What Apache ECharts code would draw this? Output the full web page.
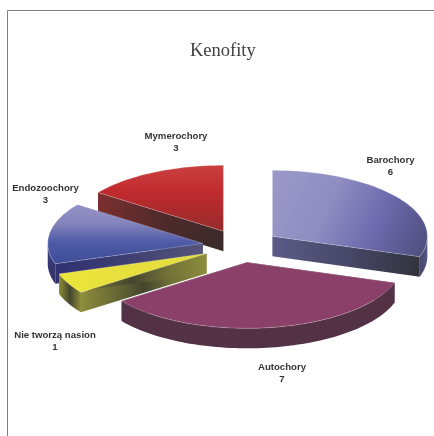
<!DOCTYPE html>
<html>
<head>
<meta charset="utf-8">
<style>html,body{margin:0;padding:0;background:#fff}#chart{width:434px;height:436px}</style>
<script src="https://cdn.jsdelivr.net/npm/echarts@6/dist/echarts.min.js"></script>
</head>
<body>
<div id="chart"></div>
<script>
// Dispersal modes of kenophytes, clockwise from twelve o'clock.
const categories = ['Barochory', 'Autochory', 'Nie tworzą nasion', 'Endozoochory', 'Mymerochory'];
const values = [6, 7, 1, 3, 3];

// Projected pie geometry, in pixels.
const pie = { cx: 241, cy: 246, rx: 155, ry: 66, explode: 0.25, depth: 20 };

// Centre of each two-line label, in category order.
const labelCentres = [[390.5, 166], [282, 373], [55, 341], [45.5, 194], [176, 142]];

function linear(x2, y2, stops) {
  return {
    type: 'linear', x: 0, y: 0, x2: x2, y2: y2,
    colorStops: stops.map(function (s) { return { offset: s[0], color: s[1] }; })
  };
}

// Face fills for each slice, in category order.
const faces = [
  {
    top: linear(1, 0.85, [[0, '#9c99c9'], [0.38, '#8f8dc1'], [0.68, '#6d6bae'], [1, '#4f4f80']]),
    cut: linear(1, 0.3, [[0, '#5b5b87'], [0.5, '#48486a'], [1, '#33333e']]),
    wall: linear(1, 0, [[0, '#46466a'], [1, '#55568a']])
  },
  { top: '#8a4068', cut: '#533246', wall: '#533246' },
  {
    top: linear(1, 0, [[0, '#ece53a'], [0.5, '#e6df3e'], [1, '#e4dd3c']]),
    cut: linear(1, 0, [[0, '#8d8d3a'], [0.25, '#6b6c36'], [0.5, '#44462f'], [0.72, '#6f7036'], [1, '#8c8c3c']]),
    wall: linear(1, 0, [[0, '#8d8d38'], [0.5, '#44462f'], [1, '#8d8d38']])
  },
  {
    top: linear(0, 1, [[0, '#9492c7'], [0.3, '#8685bd'], [0.65, '#4d5aa6'], [1, '#3e4c98']]),
    cut: linear(1, 0, [[0, '#2f3070'], [0.5, '#3f4072'], [1, '#56567a']]),
    wall: linear(0, 1, [[0, '#3c3d7e'], [1, '#323368']])
  },
  {
    top: linear(0, 1, [[0, '#ca4040'], [0.4, '#c02a2e'], [1, '#962b2b']]),
    cut: linear(1, 0.4, [[0, '#7c2f30'], [0.55, '#4f2a2a'], [1, '#3d2a2b']]),
    wall: '#3d2a2b'
  }
];

const total = values.reduce(function (a, b) { return a + b; }, 0);

// Each row: category index, cumulative start, value. Rows run back to front so
// nearer slices paint over farther ones.
let running = 0;
const rows = values.map(function (v, i) {
  const row = [i, running, v];
  running += v;
  return row;
}).sort(function (a, b) {
  const mid = function (r) { return (r[1] + r[2] / 2) / total * 2 * Math.PI; };
  return Math.cos(mid(b)) - Math.cos(mid(a));
});

function renderSlice(params, api) {
  const index = api.value(0);
  const a0 = api.value(1) / total * 2 * Math.PI;
  const a1 = (api.value(1) + api.value(2)) / total * 2 * Math.PI;
  const mid = (a0 + a1) / 2;
  const ox = pie.cx + pie.explode * pie.rx * Math.sin(mid);
  const oy = pie.cy - pie.explode * pie.ry * Math.cos(mid);
  const rim = function (a, drop) {
    return [ox + pie.rx * Math.sin(a), oy - pie.ry * Math.cos(a) + (drop || 0)];
  };
  const arc = function (from, to, drop) {
    const pts = [];
    const n = Math.max(2, Math.ceil(Math.abs(to - from) / 0.03));
    for (let k = 0; k <= n; k++) pts.push(rim(from + (to - from) * k / n, drop));
    return pts;
  };
  const polygon = function (points, fill, extra) {
    return {
      type: 'polygon', silent: true,
      shape: { points: points },
      style: Object.assign({ fill: fill }, extra || {})
    };
  };
  const d = pie.depth;
  const face = faces[index];
  const children = [];

  // Radial cut faces first; the wall and top cover whichever ones face away.
  [a0, a1].forEach(function (a) {
    const r = rim(a);
    children.push(polygon([[ox, oy], r, [r[0], r[1] + d], [ox, oy + d]], face.cut));
  });

  // Outer wall, only along the near half of the ellipse.
  const wallFrom = Math.max(a0, Math.PI / 2);
  const wallTo = Math.min(a1, Math.PI * 1.5);
  if (wallTo > wallFrom) {
    children.push(polygon(
      arc(wallFrom, wallTo, 0).concat(arc(wallTo, wallFrom, d)),
      face.wall
    ));
  }

  children.push(polygon([[ox, oy]].concat(arc(a0, a1, 0)), face.top, {
    stroke: 'rgba(255,255,255,0.4)', lineWidth: 0.6
  }));

  const centre = labelCentres[index];
  children.push({
    type: 'text', silent: true, z2: 100,
    style: {
      text: categories[index] + '\n' + api.value(2),
      x: centre[0], y: centre[1],
      align: 'center', verticalAlign: 'middle',
      font: 'bold 9.6px "Liberation Sans", Arial, sans-serif',
      lineHeight: 12,
      fill: '#333333'
    }
  });
  return { type: 'group', children: children };
}

const chart = echarts.init(document.getElementById('chart'), null, { renderer: 'canvas' });
chart.setOption({
  animation: false,
  backgroundColor: '#ffffff',
  title: {
    text: 'Kenofity',
    left: 185, top: 37,
    textStyle: {
      fontFamily: '"Liberation Serif", "Times New Roman", serif',
      fontWeight: 'normal', fontSize: 18.5, color: '#404040'
    }
  },
  graphic: [{
    type: 'polyline', silent: true,
    shape: { points: [[7.5, 436], [7.5, 10.5], [434, 10.5]] },
    style: { stroke: '#808080', lineWidth: 1, fill: null }
  }],
  series: [{
    type: 'custom',
    coordinateSystem: 'none',
    renderItem: renderSlice,
    data: rows,
    silent: true
  }]
});
</script>
</body>
</html>
